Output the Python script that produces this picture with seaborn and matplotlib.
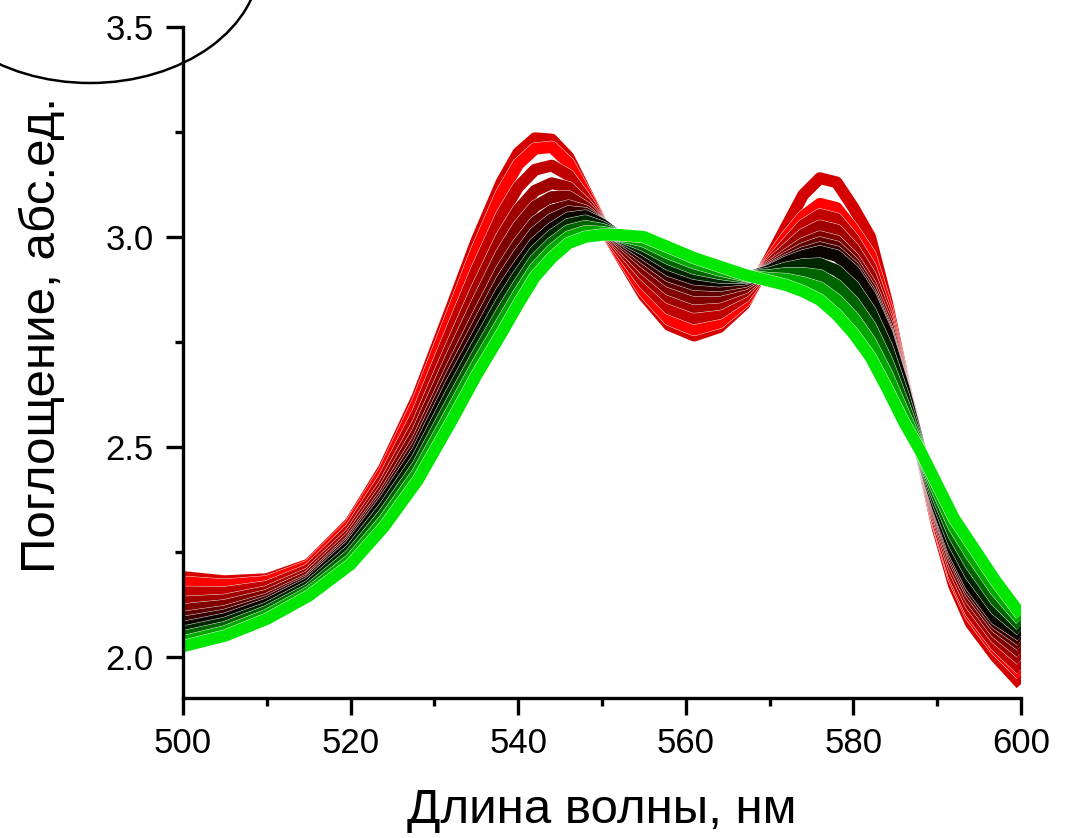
import numpy as np
import pandas as pd
import seaborn as sns
import matplotlib.pyplot as plt
import matplotlib.patheffects as pe
from matplotlib.patches import Ellipse
from matplotlib.ticker import MultipleLocator

# wavelength grid (nm)
wavelengths = [500, 505, 510, 515, 520, 524, 528, 532, 535, 538, 540, 542, 544, 546, 548, 550,
               552, 555, 558, 561, 564, 567, 570, 572, 574, 576, 578, 580, 582, 584, 586, 588,
               590, 592, 594, 597, 600]

# spectra (red -> black -> green)
s01 = [2.19, 2.18, 2.185, 2.22, 2.32, 2.45, 2.62, 2.83, 2.99, 3.13, 3.20, 3.235, 3.232, 3.19, 3.11, 3.03,
       2.96, 2.86, 2.79, 2.765, 2.785, 2.84, 2.95, 3.025, 3.10, 3.14, 3.13, 3.07, 3.00, 2.845, 2.655, 2.49,
       2.31, 2.17, 2.08, 2.00, 1.935]
s02 = [2.178, 2.171, 2.179, 2.216, 2.315, 2.442, 2.607, 2.812, 2.967, 3.104, 3.173, 3.21, 3.214, 3.176, 3.104, 3.03,
       2.964, 2.87, 2.803, 2.779, 2.796, 2.846, 2.944, 3.0, 3.049, 3.079, 3.069, 3.018, 2.958, 2.83, 2.652, 2.49,
       2.32, 2.186, 2.098, 2.018, 1.958]
s03 = [2.154, 2.153, 2.167, 2.207, 2.304, 2.426, 2.581, 2.776, 2.921, 3.052, 3.119, 3.16, 3.17, 3.147, 3.092, 3.03,
       2.972, 2.89, 2.829, 2.806, 2.818, 2.858, 2.938, 2.983, 3.028, 3.053, 3.043, 2.995, 2.93, 2.815, 2.651, 2.49,
       2.325, 2.194, 2.107, 2.027, 1.97]
s04 = [2.13, 2.135, 2.155, 2.198, 2.293, 2.41, 2.555, 2.74, 2.875, 3.0, 3.065, 3.11, 3.128, 3.118, 3.08, 3.03,
       2.98, 2.91, 2.855, 2.833, 2.84, 2.87, 2.934, 2.97, 3.006, 3.026, 3.016, 2.973, 2.909, 2.804, 2.648, 2.49,
       2.335, 2.21, 2.125, 2.045, 1.993]
s05 = [2.112, 2.122, 2.146, 2.191, 2.284, 2.398, 2.536, 2.713, 2.84, 2.961, 3.025, 3.073, 3.095, 3.096, 3.071, 3.03,
       2.986, 2.925, 2.875, 2.853, 2.857, 2.879, 2.929, 2.957, 2.984, 3.0, 2.99, 2.95, 2.888, 2.793, 2.645, 2.49,
       2.343, 2.222, 2.139, 2.059, 2.01]
s06 = [2.094, 2.108, 2.137, 2.184, 2.276, 2.386, 2.516, 2.686, 2.806, 2.922, 2.984, 3.035, 3.063, 3.074, 3.062, 3.03,
       2.992, 2.94, 2.894, 2.873, 2.873, 2.888, 2.925, 2.95, 2.972, 2.986, 2.976, 2.938, 2.877, 2.781, 2.643, 2.49,
       2.35, 2.234, 2.152, 2.072, 2.027]
s07 = [2.082, 2.099, 2.131, 2.18, 2.271, 2.378, 2.503, 2.668, 2.783, 2.896, 2.957, 3.01, 3.042, 3.06, 3.056, 3.03,
       2.996, 2.95, 2.907, 2.887, 2.884, 2.894, 2.922, 2.944, 2.962, 2.974, 2.964, 2.928, 2.867, 2.775, 2.642, 2.49,
       2.355, 2.242, 2.161, 2.081, 2.039]
s08 = [2.07, 2.09, 2.125, 2.175, 2.265, 2.37, 2.49, 2.65, 2.76, 2.87, 2.93, 2.985, 3.02, 3.045, 3.05, 3.03,
       3.00, 2.96, 2.92, 2.90, 2.895, 2.90, 2.92, 2.94, 2.955, 2.965, 2.955, 2.92, 2.86, 2.77, 2.64, 2.49,
       2.36, 2.25, 2.17, 2.09, 2.05]
s09 = [2.059, 2.08, 2.116, 2.168, 2.254, 2.355, 2.473, 2.628, 2.738, 2.845, 2.908, 2.965, 3.003, 3.03, 3.038, 3.024,
       3.001, 2.97, 2.934, 2.913, 2.904, 2.903, 2.914, 2.926, 2.934, 2.936, 2.92, 2.883, 2.824, 2.738, 2.62, 2.49,
       2.373, 2.27, 2.195, 2.113, 2.063]
s10 = [2.048, 2.07, 2.108, 2.16, 2.243, 2.34, 2.455, 2.605, 2.715, 2.82, 2.885, 2.945, 2.985, 3.015, 3.025, 3.018,
       3.003, 2.98, 2.948, 2.925, 2.913, 2.905, 2.908, 2.913, 2.913, 2.908, 2.885, 2.845, 2.788, 2.705, 2.60, 2.49,
       2.385, 2.29, 2.22, 2.135, 2.075]
s11 = [2.036, 2.06, 2.099, 2.153, 2.231, 2.325, 2.438, 2.583, 2.693, 2.795, 2.863, 2.925, 2.968, 3.0, 3.013, 3.011,
       3.004, 2.99, 2.961, 2.938, 2.921, 2.908, 2.901, 2.899, 2.891, 2.879, 2.85, 2.808, 2.751, 2.673, 2.58, 2.49,
       2.398, 2.31, 2.245, 2.158, 2.088]
s12 = [2.025, 2.05, 2.09, 2.145, 2.22, 2.31, 2.42, 2.56, 2.67, 2.77, 2.84, 2.905, 2.95, 2.985, 3.0, 3.005,
       3.005, 3.0, 2.975, 2.95, 2.93, 2.91, 2.895, 2.885, 2.87, 2.85, 2.815, 2.77, 2.715, 2.64, 2.56, 2.49,
       2.41, 2.33, 2.27, 2.18, 2.10]

spectra = [s01, s02, s03, s04, s05, s06, s07, s08, s09, s10, s11, s12]
colors = ['#D40000', '#FF0000', '#C00000', '#A00000', '#800000', '#600000',
          '#380000', '#0A0500', '#002800', '#006400', '#00A800', '#00E600']

rows = []
for i, s in enumerate(spectra):
    for w, a in zip(wavelengths, s):
        rows.append({'wl': w, 'abs': a, 'curve': i})
df = pd.DataFrame(rows)

sns.set_style('ticks')
plt.rcParams['font.family'] = ['Liberation Sans', 'DejaVu Sans']
plt.rcParams['text.color'] = 'black'
plt.rcParams['axes.labelcolor'] = 'black'

fig = plt.figure(figsize=(10.69, 8.38), dpi=100)
ax = fig.add_axes([0.1712, 0.1671, 0.9551 - 0.1712, 0.9678 - 0.1671])

sns.lineplot(data=df, x='wl', y='abs', hue='curve', palette=colors, estimator=None,
             sort=False, linewidth=8.5, legend=False, ax=ax)
for ln in ax.lines:
    ln.set_solid_capstyle('butt')
    ln.set_solid_joinstyle('round')
    ln.set_path_effects([pe.Stroke(linewidth=9.1, foreground='white'), pe.Normal()])

ax.set_xlim(500, 600)
ax.set_ylim(1.902, 3.5)
ax.xaxis.set_major_locator(MultipleLocator(20))
ax.xaxis.set_minor_locator(MultipleLocator(10))
ax.yaxis.set_minor_locator(MultipleLocator(0.25))
ax.set_yticks([2.0, 2.5, 3.0, 3.5])
ax.set_yticklabels(['2.0', '2.5', '3.0', '3.5'])

for side in ['top', 'right']:
    ax.spines[side].set_visible(False)
for side in ['left', 'bottom']:
    ax.spines[side].set_linewidth(2.4)
    ax.spines[side].set_color('black')

ax.tick_params(which='major', direction='out', length=12, width=2.4, labelsize=25,
               pad=9, colors='black')
ax.tick_params(which='minor', direction='out', length=6, width=2.4, colors='black')

ax.set_xlabel('Длина волны, нм', fontsize=35.5, labelpad=20)
ax.set_ylabel('Поглощение, абс.ед.', fontsize=35.5)
ax.yaxis.set_label_coords(-0.141, 0.541)

# circle fragment in the top-left corner
fig.add_artist(Ellipse((90 / 1069, 1 + 40 / 838), 340 / 1069, 246 / 838,
                       transform=fig.transFigure, fill=False, edgecolor='black',
                       linewidth=1.8, clip_on=False))

fig.savefig('out.png', dpi=100)
